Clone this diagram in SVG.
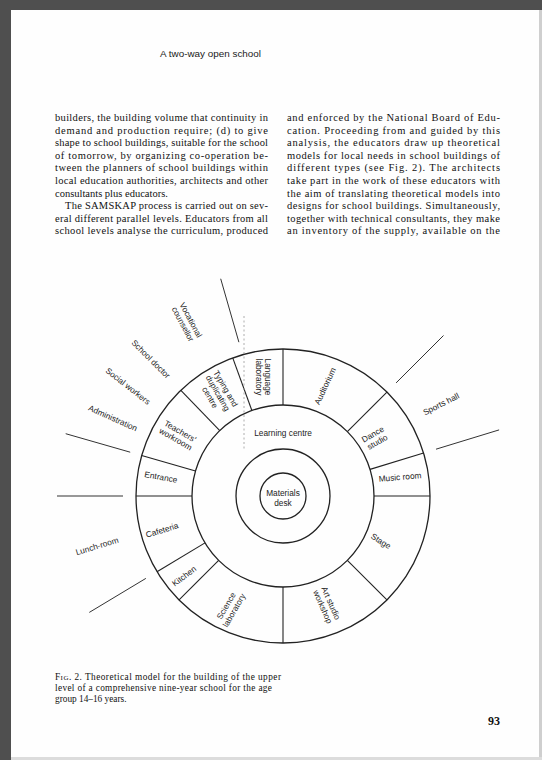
<svg xmlns="http://www.w3.org/2000/svg" width="542" height="760" viewBox="0 0 542 760">
  <style>
    .body{font-family:"Liberation Serif","Times New Roman",serif;font-size:10.5px;fill:#111}
    .cap{font-family:"Liberation Serif","Times New Roman",serif;font-size:9.3px;fill:#111}
    .head{font-family:"Liberation Sans",Arial,sans-serif;font-size:9.9px;fill:#1a1a1a}
    .lbl{font-family:"Liberation Sans",Arial,sans-serif;font-size:8.3px;fill:#1c1c1c;text-anchor:middle}
    .ring{fill:none;stroke:#222;stroke-width:1.3}
    .div{stroke:#222;stroke-width:1.1;fill:none}
    .ext{stroke:#333;stroke-width:1;fill:none}
    .dash{stroke:#999;stroke-width:0.8;stroke-dasharray:2 2.5;fill:none}
  </style>

  <!-- page and scan frame -->
  <rect x="0" y="0" width="542" height="760" fill="#fefefe"/>
  <rect x="0" y="0" width="542" height="10" fill="#4f4f4f"/>
  <rect x="0" y="0" width="11" height="760" fill="#4f4f4f"/>
  <rect x="11" y="757" width="531" height="3" fill="#dcdcdc"/>
  <rect x="539" y="10" width="3" height="747" fill="#cfcfcf"/>

  <!-- running head -->
  <text class="head" x="160" y="57">A two-way open school</text>

  <!-- left column -->
  <g id="column-left" class="body">
    <text x="55" y="121" textLength="213" lengthAdjust="spacing">builders, the building volume that continuity in</text>
    <text x="55" y="133.6" textLength="213" lengthAdjust="spacing">demand and production require; (d) to give</text>
    <text x="55" y="146.2" textLength="213" lengthAdjust="spacing">shape to school buildings, suitable for the school</text>
    <text x="55" y="158.8" textLength="213" lengthAdjust="spacing">of tomorrow, by organizing co-operation be-</text>
    <text x="55" y="171.4" textLength="213" lengthAdjust="spacing">tween the planners of school buildings within</text>
    <text x="55" y="184" textLength="213" lengthAdjust="spacing">local education authorities, architects and other</text>
    <text x="55" y="196.6">consultants plus educators.</text>
    <text x="65" y="209.2" textLength="203" lengthAdjust="spacing">The SAMSKAP process is carried out on sev-</text>
    <text x="55" y="221.8" textLength="213" lengthAdjust="spacing">eral different parallel levels. Educators from all</text>
    <text x="55" y="234.4" textLength="213" lengthAdjust="spacing">school levels analyse the curriculum, produced</text>
  </g>

  <!-- right column -->
  <g id="column-right" class="body">
    <text x="287" y="121" textLength="213" lengthAdjust="spacing">and enforced by the National Board of Edu-</text>
    <text x="287" y="133.6" textLength="213" lengthAdjust="spacing">cation. Proceeding from and guided by this</text>
    <text x="287" y="146.2" textLength="213" lengthAdjust="spacing">analysis, the educators draw up theoretical</text>
    <text x="287" y="158.8" textLength="213" lengthAdjust="spacing">models for local needs in school buildings of</text>
    <text x="287" y="171.4" textLength="213" lengthAdjust="spacing">different types (see Fig. 2). The architects</text>
    <text x="287" y="184" textLength="213" lengthAdjust="spacing">take part in the work of these educators with</text>
    <text x="287" y="196.6" textLength="213" lengthAdjust="spacing">the aim of translating theoretical models into</text>
    <text x="287" y="209.2" textLength="213" lengthAdjust="spacing">designs for school buildings. Simultaneously,</text>
    <text x="287" y="221.8" textLength="213" lengthAdjust="spacing">together with technical consultants, they make</text>
    <text x="287" y="234.4" textLength="213" lengthAdjust="spacing">an inventory of the supply, available on the</text>
  </g>

  <!-- plan: concentric rings around (283,496) -->
  <g id="rings">
    <circle class="ring" cx="283" cy="496" r="147"/>
    <circle class="ring" cx="283" cy="496" r="91"/>
    <circle class="ring" cx="283" cy="496" r="47"/>
    <circle class="ring" cx="283" cy="496" r="23"/>
  </g>

  <!-- walls between rooms of the outer ring, and boundaries of the outer zones -->
  <g id="connectors">
    <line class="div" x1="283" y1="405" x2="283" y2="349"/>
    <line class="div" x1="347.35" y1="431.65" x2="386.94" y2="392.06"/>
    <line class="div" x1="370.02" y1="469.39" x2="423.58" y2="453.02"/>
    <line class="div" x1="374" y1="496" x2="430" y2="496"/>
    <line class="div" x1="347.35" y1="560.35" x2="386.94" y2="599.94"/>
    <line class="div" x1="283" y1="587" x2="283" y2="643"/>
    <line class="div" x1="218.65" y1="560.35" x2="179.06" y2="599.94"/>
    <line class="div" x1="205" y1="542.87" x2="157" y2="571.7"/>
    <line class="div" x1="192" y1="496" x2="136" y2="496"/>
    <line class="div" x1="195.52" y1="470.92" x2="141.69" y2="455.49"/>
    <line class="div" x1="219.78" y1="430.54" x2="180.88" y2="390.26"/>
    <line class="div" x1="251.88" y1="410.49" x2="232.73" y2="357.86"/>

    <line class="ext" x1="238.9" y1="342.2" x2="220.7" y2="278.75"/>
    <line class="ext" x1="130.2" y1="452.2" x2="65.7" y2="433.7"/>
    <line class="ext" x1="123" y1="496" x2="57" y2="496"/>
    <line class="ext" x1="145.85" y1="578.4" x2="89.3" y2="612.4"/>
    <line class="ext" x1="396.1" y1="382.9" x2="443.5" y2="335.5"/>
    <line class="ext" x1="436" y1="449.2" x2="499.1" y2="429.9"/>

    <line class="dash" x1="244" y1="316" x2="244" y2="450"/>
  </g>

  <!-- centre -->
  <g id="materials-desk">
    <text class="lbl" x="283" y="495.5">Materials</text>
    <text class="lbl" x="283" y="506">desk</text>
  </g>
  <g id="learning-centre">
    <text class="lbl" x="283" y="435.5">Learning centre</text>
  </g>

  <!-- rooms of the outer ring -->
  <g id="language-laboratory" transform="translate(263,377) rotate(90)">
    <text class="lbl" y="-1.5">Language</text>
    <text class="lbl" y="7.5">laboratory</text>
  </g>
  <g id="auditorium" transform="translate(325,386) rotate(-65)">
    <text class="lbl" y="3">Auditorium</text>
  </g>
  <g id="dance-studio" transform="translate(375,438) rotate(-30)">
    <text class="lbl" y="-1.5">Dance</text>
    <text class="lbl" y="7.5">studio</text>
  </g>
  <g id="music-room" transform="translate(400,477) rotate(-5)">
    <text class="lbl" y="3">Music room</text>
  </g>
  <g id="stage" transform="translate(381,541) rotate(32)">
    <text class="lbl" y="3">Stage</text>
  </g>
  <g id="art-studio-workshop" transform="translate(327,605) rotate(66)">
    <text class="lbl" y="-1.5">Art studio</text>
    <text class="lbl" y="7.5">workshop</text>
  </g>
  <g id="science-laboratory" transform="translate(230,608) rotate(-60)">
    <text class="lbl" y="-1.5">Science</text>
    <text class="lbl" y="7.5">laboratory</text>
  </g>
  <g id="kitchen" transform="translate(184,576) rotate(-37)">
    <text class="lbl" y="3">Kitchen</text>
  </g>
  <g id="cafeteria" transform="translate(162,530) rotate(-17)">
    <text class="lbl" y="3">Cafeteria</text>
  </g>
  <g id="entrance" transform="translate(161,477) rotate(10)">
    <text class="lbl" y="3">Entrance</text>
  </g>
  <g id="teachers-workroom" transform="translate(178,435) rotate(30)">
    <text class="lbl" y="-1.5">Teachers'</text>
    <text class="lbl" y="7.5">workroom</text>
  </g>
  <g id="typing-duplicating-centre" transform="translate(218,393) rotate(60)">
    <text class="lbl" y="-6">Typing and</text>
    <text class="lbl" y="3">duplicating</text>
    <text class="lbl" y="12">centre</text>
  </g>

  <!-- outer zones -->
  <g id="vocational-counsellor" transform="translate(187,322) rotate(62)">
    <text class="lbl" y="-1.5">Vocational</text>
    <text class="lbl" y="7.5">counsellor</text>
  </g>
  <g id="school-doctor" transform="translate(151,359) rotate(45)">
    <text class="lbl" y="3">School doctor</text>
  </g>
  <g id="social-workers" transform="translate(128,386) rotate(38)">
    <text class="lbl" y="3">Social workers</text>
  </g>
  <g id="administration" transform="translate(113,418) rotate(24)">
    <text class="lbl" y="3">Administration</text>
  </g>
  <g id="lunch-room" transform="translate(97,546) rotate(-17)">
    <text class="lbl" y="3">Lunch-room</text>
  </g>
  <g id="sports-hall" transform="translate(441,404) rotate(-27)">
    <text class="lbl" y="3">Sports hall</text>
  </g>

  <!-- figure caption and folio -->
  <g id="caption" class="cap">
    <text x="55" y="679.5" textLength="226" lengthAdjust="spacing"><tspan style="font-variant:small-caps">Fig.</tspan> 2. Theoretical model for the building of the upper</text>
    <text x="55" y="690.5" textLength="217" lengthAdjust="spacing">level of a comprehensive nine-year school for the age</text>
    <text x="55" y="701.5">group 14–16 years.</text>
  </g>
  <text x="500" y="725" text-anchor="end" style="font-family:'Liberation Serif','Times New Roman',serif;font-size:12px;font-weight:bold;fill:#111">93</text>
</svg>
